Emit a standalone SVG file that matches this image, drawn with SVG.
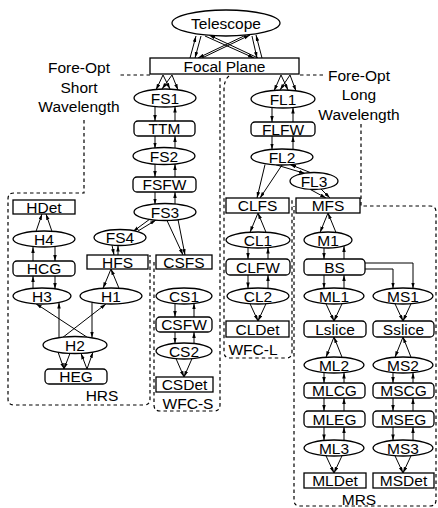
<svg xmlns="http://www.w3.org/2000/svg" width="438" height="508" viewBox="0 0 438 508">
<style>
text{font-family:"Liberation Sans",Arial,sans-serif;font-size:15.5px;fill:#000;text-anchor:middle}
.n{fill:#fff;stroke:#000;stroke-width:1.3}
.e{stroke:#000;stroke-width:1;fill:none}
.c{stroke:#000;stroke-width:1.2;fill:none;stroke-dasharray:3.5,3}
</style>
<defs>
<marker id="a" markerWidth="6" markerHeight="4" refX="6" refY="1.75" orient="auto-start-reverse" markerUnits="userSpaceOnUse"><path d="M0,0L6,1.75L0,3.5z" fill="#000"/></marker>
</defs>
<rect width="438" height="508" fill="#fff"/>
<g id="clusters">
<path class="c" d="M150,75H118"/>
<path class="c" d="M84,120V193H14q-6,0-6,6V399q0,6,6,6H144q6,0,6-6V255"/>
<path class="c" d="M300,75H325"/>
<path class="c" d="M361,124V206H430q6,0,6,6V500q0,6-6,6H300q-6,0-6-6V206"/>
<path class="c" d="M220,78V405q0,6-6,6H160q-6,0-6-6V262"/>
<path class="c" d="M229,76Q224,80,224,90V352q0,6,6,6H286q6,0,6-6V199"/>
</g>
<g id="connectors">
<g marker-end="url(#a)" class="e">
<line x1="196" y1="36" x2="190" y2="58" marker-end="none" marker-start="url(#a)"/>
<line x1="201" y1="36" x2="195" y2="58"/>
<line x1="252" y1="36" x2="257" y2="58"/>
<line x1="256" y1="35" x2="262" y2="58" marker-end="none" marker-start="url(#a)"/>
<line x1="205" y1="36" x2="254" y2="58"/>
<line x1="209" y1="35" x2="258" y2="58" marker-end="none" marker-start="url(#a)"/>
<line x1="246" y1="35" x2="198" y2="58"/>
<line x1="250" y1="35" x2="202" y2="58" marker-end="none" marker-start="url(#a)"/>
<line x1="156" y1="90" x2="163" y2="75" marker-end="none" marker-start="url(#a)"/>
<line x1="163" y1="75" x2="170" y2="89"/>
<line x1="162" y1="89" x2="172" y2="75" marker-end="none" marker-start="url(#a)"/>
<line x1="172" y1="75" x2="178" y2="90"/>
<line x1="274" y1="91" x2="281" y2="75" marker-end="none" marker-start="url(#a)"/>
<line x1="281" y1="75" x2="288" y2="90"/>
<line x1="280" y1="90" x2="290" y2="75" marker-end="none" marker-start="url(#a)"/>
<line x1="290" y1="75" x2="296" y2="91"/>
<line x1="155" y1="106.5" x2="155" y2="121"/>
<line x1="175" y1="106.5" x2="175" y2="121" marker-end="none" marker-start="url(#a)"/>
<line x1="155" y1="136" x2="155" y2="148.5"/>
<line x1="175" y1="136" x2="175" y2="148.5" marker-end="none" marker-start="url(#a)"/>
<line x1="155" y1="164" x2="155" y2="177"/>
<line x1="175" y1="164" x2="175" y2="177" marker-end="none" marker-start="url(#a)"/>
<line x1="155" y1="192" x2="155" y2="204.5"/>
<line x1="175" y1="192" x2="175" y2="204.5" marker-end="none" marker-start="url(#a)"/>
<line x1="272" y1="107.5" x2="272" y2="122"/>
<line x1="293" y1="107.5" x2="293" y2="122" marker-end="none" marker-start="url(#a)"/>
<line x1="272" y1="136" x2="272" y2="149.5"/>
<line x1="293" y1="136" x2="293" y2="149.5" marker-end="none" marker-start="url(#a)"/>
<line x1="150" y1="219" x2="133" y2="231.5"/>
<line x1="156" y1="220" x2="138" y2="231" marker-end="none" marker-start="url(#a)"/>
<line x1="167" y1="220.5" x2="183" y2="255"/>
<line x1="178" y1="219.5" x2="185" y2="255"/>
<line x1="112" y1="245" x2="114" y2="255"/>
<line x1="118" y1="245.5" x2="118" y2="255" marker-end="none" marker-start="url(#a)"/>
<line x1="42" y1="214" x2="36" y2="231.5" marker-end="none" marker-start="url(#a)"/>
<line x1="46" y1="214" x2="52" y2="231.5" marker-end="none" marker-start="url(#a)"/>
<line x1="33" y1="247" x2="33" y2="261" marker-end="none" marker-start="url(#a)"/>
<line x1="55" y1="246" x2="55" y2="261"/>
<line x1="33" y1="276" x2="33" y2="289" marker-end="none" marker-start="url(#a)"/>
<line x1="55" y1="276" x2="55" y2="289"/>
<line x1="111" y1="269" x2="103" y2="288.3"/>
<line x1="111" y1="269" x2="119" y2="288.3" marker-end="none" marker-start="url(#a)"/>
<line x1="59" y1="302.5" x2="59" y2="337.6" marker-end="none" marker-start="url(#a)"/>
<line x1="92" y1="302.3" x2="92" y2="337.8"/>
<line x1="36" y1="303.7" x2="88" y2="337.8" marker-end="none" marker-start="url(#a)"/>
<line x1="106" y1="303.9" x2="62" y2="338" marker-end="none" marker-start="url(#a)"/>
<line x1="58" y1="352" x2="64" y2="369"/>
<line x1="70" y1="353.3" x2="64" y2="369"/>
<line x1="81" y1="353.4" x2="87" y2="369" marker-end="none" marker-start="url(#a)"/>
<line x1="93" y1="352" x2="87" y2="369" marker-end="none" marker-start="url(#a)"/>
<line x1="175" y1="303.5" x2="175" y2="317"/>
<line x1="194" y1="303.3" x2="194" y2="317" marker-end="none" marker-start="url(#a)"/>
<line x1="175" y1="332" x2="175" y2="343.5"/>
<line x1="194" y1="332" x2="194" y2="343.3" marker-end="none" marker-start="url(#a)"/>
<line x1="176" y1="358.6" x2="184" y2="377"/>
<line x1="192" y1="358.6" x2="184" y2="377"/>
<line x1="265" y1="164.6" x2="257" y2="198"/>
<line x1="282" y1="165" x2="260" y2="198"/>
<line x1="276" y1="164.8" x2="305" y2="173.5"/>
<line x1="290" y1="164.5" x2="311" y2="172.8" marker-end="none" marker-start="url(#a)"/>
<line x1="310" y1="189.3" x2="326" y2="198"/>
<line x1="321" y1="189" x2="330" y2="198"/>
<line x1="258" y1="213" x2="250" y2="232.3"/>
<line x1="258" y1="213" x2="266" y2="232.3" marker-end="none" marker-start="url(#a)"/>
<line x1="328" y1="213" x2="320" y2="232.5"/>
<line x1="328" y1="213" x2="336" y2="232.5" marker-end="none" marker-start="url(#a)"/>
<line x1="248" y1="247.6" x2="248" y2="259"/>
<line x1="268" y1="247.6" x2="268" y2="259" marker-end="none" marker-start="url(#a)"/>
<line x1="248" y1="275" x2="248" y2="288.4"/>
<line x1="268" y1="275" x2="268" y2="288.4" marker-end="none" marker-start="url(#a)"/>
<line x1="250" y1="303.7" x2="258" y2="321"/>
<line x1="266" y1="303.7" x2="258" y2="321"/>
<line x1="324" y1="247.8" x2="324" y2="259"/>
<line x1="344" y1="246" x2="344" y2="259" marker-end="none" marker-start="url(#a)"/>
<line x1="324" y1="275" x2="324" y2="288.6"/>
<line x1="344" y1="275" x2="344" y2="288.6" marker-end="none" marker-start="url(#a)"/>
<path d="M365,263H413V288.6"/>
<path d="M365,269H393V288.6"/>
<line x1="326" y1="303.8" x2="334" y2="321"/>
<line x1="342" y1="303.8" x2="334" y2="321"/>
<line x1="395" y1="303.8" x2="403" y2="321"/>
<line x1="411" y1="303.8" x2="403" y2="321"/>
<line x1="334" y1="337" x2="326" y2="357.2"/>
<line x1="334" y1="337" x2="342" y2="357.2" marker-end="none" marker-start="url(#a)"/>
<line x1="403" y1="337" x2="395" y2="357.2"/>
<line x1="403" y1="337" x2="411" y2="357.2" marker-end="none" marker-start="url(#a)"/>
<line x1="324" y1="372.6" x2="324" y2="383"/>
<line x1="344" y1="372.6" x2="344" y2="383" marker-end="none" marker-start="url(#a)"/>
<line x1="324" y1="398" x2="324" y2="411"/>
<line x1="344" y1="398" x2="344" y2="411" marker-end="none" marker-start="url(#a)"/>
<line x1="324" y1="427" x2="324" y2="440.4"/>
<line x1="344" y1="427" x2="344" y2="440.4" marker-end="none" marker-start="url(#a)"/>
<line x1="393" y1="372.6" x2="393" y2="383"/>
<line x1="413" y1="372.6" x2="413" y2="383" marker-end="none" marker-start="url(#a)"/>
<line x1="393" y1="398" x2="393" y2="411"/>
<line x1="413" y1="398" x2="413" y2="411" marker-end="none" marker-start="url(#a)"/>
<line x1="393" y1="427" x2="393" y2="440.4"/>
<line x1="413" y1="427" x2="413" y2="440.4" marker-end="none" marker-start="url(#a)"/>
<line x1="326" y1="455.8" x2="334" y2="473"/>
<line x1="342" y1="455.8" x2="334" y2="473"/>
<line x1="395" y1="455.8" x2="403" y2="473"/>
<line x1="411" y1="455.8" x2="403" y2="473"/>
</g>
</g>
<g id="Telescope"><ellipse class="n" cx="226" cy="23" rx="54" ry="13"/><text x="226" y="29">Telescope</text></g>
<g id="FocalPlane"><rect class="n" x="150" y="58" width="149" height="16"/><text x="224.5" y="71.5">Focal Plane</text></g>
<g id="FS1"><ellipse class="n" cx="165" cy="98" rx="31" ry="9"/><text x="165" y="104">FS1</text></g>
<g id="TTM"><rect class="n" x="134" y="121" width="61" height="15" rx="4"/><text x="164.5" y="134">TTM</text></g>
<g id="FS2"><ellipse class="n" cx="164" cy="156" rx="31" ry="8.5"/><text x="164" y="161.5">FS2</text></g>
<g id="FSFW"><rect class="n" x="133" y="177" width="63" height="15" rx="4"/><text x="164.5" y="190">FSFW</text></g>
<g id="FS3"><ellipse class="n" cx="165" cy="212" rx="31" ry="8.5"/><text x="165" y="217.5">FS3</text></g>
<g id="FS4"><ellipse class="n" cx="120" cy="237.5" rx="26" ry="8"/><text x="120" y="243">FS4</text></g>
<g id="HFS"><rect class="n" x="87" y="255" width="61" height="14"/><text x="117.5" y="267.5">HFS</text></g>
<g id="CSFS"><rect class="n" x="156" y="255" width="56" height="14"/><text x="184" y="267.5">CSFS</text></g>
<g id="HDet"><rect class="n" x="13" y="200" width="62" height="14"/><text x="44" y="212.5">HDet</text></g>
<g id="H4"><ellipse class="n" cx="44" cy="239" rx="31" ry="8"/><text x="44" y="244.5">H4</text></g>
<g id="HCG"><rect class="n" x="13" y="261" width="62" height="15" rx="4"/><text x="44" y="274">HCG</text></g>
<g id="H3"><ellipse class="n" cx="42" cy="296" rx="29" ry="8"/><text x="42" y="301.5">H3</text></g>
<g id="H1"><ellipse class="n" cx="111" cy="296" rx="31" ry="8"/><text x="111" y="301.5">H1</text></g>
<g id="H2"><ellipse class="n" cx="75" cy="345" rx="32" ry="8.5"/><text x="75" y="350.5">H2</text></g>
<g id="HEG"><rect class="n" x="45" y="369" width="62" height="15" rx="4"/><text x="76" y="382">HEG</text></g>
<g id="CS1"><ellipse class="n" cx="184" cy="296" rx="28" ry="8"/><text x="184" y="301.5">CS1</text></g>
<g id="CSFW"><rect class="n" x="156" y="317" width="56" height="15" rx="4"/><text x="184" y="330">CSFW</text></g>
<g id="CS2"><ellipse class="n" cx="184" cy="351" rx="28" ry="8"/><text x="184" y="356.5">CS2</text></g>
<g id="CSDet"><rect class="n" x="156" y="377" width="57" height="15"/><text x="184.5" y="390">CSDet</text></g>
<g id="FL1"><ellipse class="n" cx="283" cy="99" rx="32" ry="9"/><text x="283" y="105">FL1</text></g>
<g id="FLFW"><rect class="n" x="251" y="122" width="64" height="14" rx="4"/><text x="283" y="134.5">FLFW</text></g>
<g id="FL2"><ellipse class="n" cx="282" cy="157" rx="31" ry="8"/><text x="282" y="162.5">FL2</text></g>
<g id="FL3"><ellipse class="n" cx="314" cy="181" rx="24" ry="8.5"/><text x="314" y="186.5">FL3</text></g>
<g id="CLFS"><rect class="n" x="226" y="198" width="63" height="15"/><text x="257.5" y="211">CLFS</text></g>
<g id="MFS"><rect class="n" x="296" y="198" width="64" height="15"/><text x="328" y="211">MFS</text></g>
<g id="CL1"><ellipse class="n" cx="258" cy="240" rx="32" ry="8"/><text x="258" y="245.5">CL1</text></g>
<g id="M1"><ellipse class="n" cx="328" cy="240" rx="24" ry="8"/><text x="328" y="245.5">M1</text></g>
<g id="CLFW"><rect class="n" x="226" y="259" width="64" height="16" rx="4"/><text x="258" y="272.5">CLFW</text></g>
<g id="BS"><rect class="n" x="304" y="259" width="61" height="16" rx="4"/><text x="334.5" y="272.5">BS</text></g>
<g id="CL2"><ellipse class="n" cx="258" cy="296" rx="31" ry="8"/><text x="258" y="301.5">CL2</text></g>
<g id="ML1"><ellipse class="n" cx="334" cy="296" rx="30" ry="8"/><text x="334" y="301.5">ML1</text></g>
<g id="MS1"><ellipse class="n" cx="403" cy="296" rx="30" ry="8"/><text x="403" y="301.5">MS1</text></g>
<g id="CLDet"><rect class="n" x="226" y="321" width="63" height="16"/><text x="257.5" y="334.5">CLDet</text></g>
<g id="Lslice"><rect class="n" x="304" y="321" width="62" height="16" rx="4"/><text x="335" y="334.5">Lslice</text></g>
<g id="Sslice"><rect class="n" x="373" y="321" width="61" height="16" rx="4"/><text x="403.5" y="334.5">Sslice</text></g>
<g id="ML2"><ellipse class="n" cx="334" cy="365" rx="30" ry="8"/><text x="334" y="370.5">ML2</text></g>
<g id="MS2"><ellipse class="n" cx="403" cy="365" rx="30" ry="8"/><text x="403" y="370.5">MS2</text></g>
<g id="MLCG"><rect class="n" x="304" y="383" width="61" height="15" rx="4"/><text x="334.5" y="396">MLCG</text></g>
<g id="MSCG"><rect class="n" x="373" y="383" width="61" height="15" rx="4"/><text x="403.5" y="396">MSCG</text></g>
<g id="MLEG"><rect class="n" x="304" y="411" width="61" height="16" rx="4"/><text x="334.5" y="424.5">MLEG</text></g>
<g id="MSEG"><rect class="n" x="373" y="411" width="61" height="16" rx="4"/><text x="403.5" y="424.5">MSEG</text></g>
<g id="ML3"><ellipse class="n" cx="334" cy="448" rx="30" ry="8"/><text x="334" y="453.5">ML3</text></g>
<g id="MS3"><ellipse class="n" cx="403" cy="448" rx="30" ry="8"/><text x="403" y="453.5">MS3</text></g>
<g id="MLDet"><rect class="n" x="304" y="473" width="62" height="15"/><text x="335" y="486">MLDet</text></g>
<g id="MSDet"><rect class="n" x="373" y="473" width="61" height="15"/><text x="403.5" y="486">MSDet</text></g>
<g id="labels">
<text x="79" y="73">Fore-Opt</text><text x="79" y="93">Short</text><text x="79" y="112">Wavelength</text>
<text x="359" y="81">Fore-Opt</text><text x="359" y="100">Long</text><text x="359" y="120">Wavelength</text>
<text x="102" y="401">HRS</text><text x="188" y="409">WFC-S</text><text x="253" y="355">WFC-L</text><text x="359" y="505">MRS</text>
</g>
</svg>
